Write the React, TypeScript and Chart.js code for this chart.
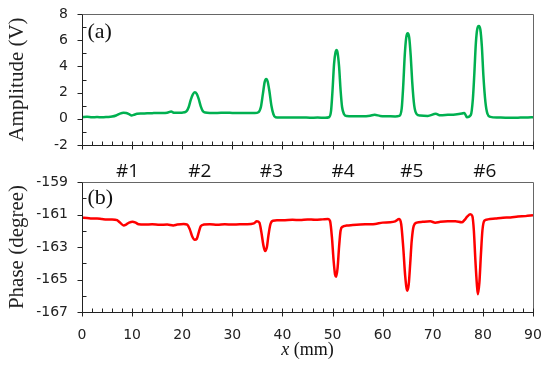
import { useEffect, useRef } from 'react';
import { Chart, registerables } from 'chart.js';

Chart.register(...registerables);

// ---- Data ----
const ampX = [0, 1, 2, 3, 4, 5, 6, 6.8, 7.5, 8.3, 8.8, 9.4, 9.9, 10.3, 11, 12, 13, 14, 15, 16, 17, 17.8, 18.3, 19, 20, 20.8, 21.3, 21.7, 22.1, 22.5, 22.9, 23.3, 23.7, 24.1, 24.6, 25.5, 27, 28.5, 30, 31.5, 33, 34.5, 35.2, 35.7, 36.1, 36.45, 36.75, 37.05, 37.4, 37.8, 38.2, 38.6, 39.5, 41, 42.5, 44, 45.5, 47, 48.5, 49.3, 49.7, 50.0, 50.3, 50.6, 50.8, 51.0, 51.3, 51.6, 51.9, 52.3, 52.8, 54, 56, 57.5, 58.4, 59.5, 61, 62.5, 63.3, 63.8, 64.1, 64.4, 64.7, 65.0, 65.3, 65.6, 65.9, 66.3, 66.8, 67.5, 69, 70.6, 71.5, 73, 74.5, 75.8, 76.3, 76.8, 77.6, 78.0, 78.3, 78.6, 78.9, 79.2, 79.5, 79.8, 80.1, 80.5, 80.9, 81.5, 83, 84.5, 86, 87.5, 89, 90];
const ampY = [0.12, 0.15, 0.12, 0.13, 0.12, 0.14, 0.17, 0.25, 0.38, 0.46, 0.44, 0.35, 0.26, 0.3, 0.38, 0.4, 0.42, 0.43, 0.44, 0.44, 0.46, 0.55, 0.47, 0.46, 0.47, 0.55, 0.9, 1.45, 1.85, 2.02, 1.9, 1.5, 0.95, 0.6, 0.48, 0.45, 0.45, 0.46, 0.45, 0.44, 0.45, 0.44, 0.5, 0.9, 1.9, 2.8, 3.04, 2.85, 2.1, 1.0, 0.35, 0.12, 0.1, 0.09, 0.1, 0.1, 0.08, 0.09, 0.08, 0.12, 0.6, 2.2, 4.2, 5.1, 5.25, 5.05, 4.0, 2.2, 0.9, 0.35, 0.22, 0.2, 0.2, 0.24, 0.3, 0.22, 0.2, 0.18, 0.22, 0.8, 2.5, 4.8, 6.2, 6.53, 6.2, 4.8, 2.8, 1.0, 0.35, 0.25, 0.22, 0.38, 0.27, 0.3, 0.33, 0.4, 0.45, 0.12, 0.3, 1.5, 3.5, 5.8, 6.9, 7.08, 6.8, 5.5, 3.3, 1.3, 0.4, 0.15, 0.1, 0.08, 0.08, 0.09, 0.1, 0.12];

const phaseX = [0, 1, 2, 3, 4, 5, 6, 7, 7.6, 8.3, 8.8, 9.4, 10.1, 10.7, 11.3, 12.5, 14, 15.5, 17, 18.2, 19, 20.3, 21.0, 21.5, 22.0, 22.5, 22.9, 23.3, 23.7, 24.3, 25.5, 27, 28.5, 30, 31.5, 33, 34.3, 34.9, 35.4, 35.8, 36.2, 36.55, 36.9, 37.2, 37.6, 38.1, 39, 40.5, 42, 43.5, 45, 46.5, 48, 49.1, 49.5, 49.9, 50.2, 50.5, 50.7, 51.0, 51.3, 51.6, 52.0, 52.8, 54, 55.5, 57, 58.5, 60, 61.5, 62.5, 63.3, 63.7, 64.1, 64.5, 64.9, 65.2, 65.5, 65.8, 66.2, 66.8, 68, 69.5, 70.5, 71.5, 73, 74.5, 75.8, 76.3, 76.9, 77.5, 77.9, 78.2, 78.5, 78.8, 79.0, 79.3, 79.6, 79.9, 80.3, 81, 82.5, 84, 85.5, 87, 88.5, 90];
const phaseY = [-161.2, -161.22, -161.25, -161.25, -161.28, -161.3, -161.3, -161.35, -161.5, -161.67, -161.62, -161.5, -161.44, -161.5, -161.6, -161.62, -161.6, -161.63, -161.62, -161.67, -161.62, -161.58, -161.62, -161.9, -162.35, -162.55, -162.5, -162.1, -161.72, -161.62, -161.6, -161.63, -161.6, -161.62, -161.6, -161.6, -161.55, -161.42, -161.5, -162.1, -162.9, -163.25, -163.0, -162.3, -161.6, -161.38, -161.36, -161.35, -161.33, -161.34, -161.3, -161.32, -161.3, -161.28, -161.4, -162.5, -163.8, -164.7, -164.83, -164.3, -163.0, -162.0, -161.75, -161.68, -161.65, -161.62, -161.6, -161.58, -161.5, -161.48, -161.42, -161.28, -161.6, -163.0, -164.8, -165.69, -165.3, -164.0, -162.6, -161.7, -161.5, -161.45, -161.42, -161.5, -161.45, -161.42, -161.42, -161.48, -161.35, -161.12, -160.99, -161.1, -162.0, -163.8, -165.3, -165.91, -165.2, -163.5, -162.0, -161.38, -161.3, -161.25, -161.2, -161.18, -161.12, -161.1, -161.05];

const ampTicks = [-2, 0, 2, 4, 6, 8];
const phaseTicks = [-167, -165, -163, -161, -159];
const xTicks = [0, 10, 20, 30, 40, 50, 60, 70, 80, 90];
const sampleLabels = ['#1', '#2', '#3', '#4', '#5', '#6'];
const sampleX = [9.1, 23.5, 37.8, 52.1, 65.8, 80.4];

const TICK_FONT = { family: 'DejaVu Sans', size: 14 };
const SERIF = 'Liberation Serif';

const framePlugin = {
  id: 'frame',
  afterDraw(chart: any, _args: any, opts: any) {
    const { ctx, chartArea } = chart;
    const xs = chart.scales.x;
    const ys = chart.scales.y;
    const L = Math.round(chartArea.left) + 0.5;
    const R = Math.round(chartArea.right) + 0.5;
    const T = Math.round(chartArea.top) + 0.5;
    const B = Math.round(chartArea.bottom) + 0.5;
    ctx.save();
    ctx.lineWidth = 1;
    ctx.strokeStyle = '#666';
    ctx.beginPath();
    ctx.moveTo(L, T);
    ctx.lineTo(R, T);
    ctx.lineTo(R, B);
    ctx.stroke();
    ctx.strokeStyle = '#222';
    ctx.beginPath();
    ctx.moveTo(L, T);
    ctx.lineTo(L, B);
    ctx.lineTo(R, B);
    const yMin = ys.min;
    const yMax = ys.max;
    for (let v = yMin; v <= yMax + 1e-9; v += 1) {
      const py = Math.round(ys.getPixelForValue(v)) + 0.5;
      const major = Math.round(v - yMin) % 2 === 0;
      ctx.moveTo(major ? L - 5 : L, py);
      ctx.lineTo(major ? L : L + 4, py);
    }
    for (let v = 0; v <= 90; v += 2) {
      const px = Math.round(xs.getPixelForValue(v)) + 0.5;
      const major = v % 10 === 0;
      ctx.moveTo(px, B - 4);
      ctx.lineTo(px, major ? B + 4 : B);
    }
    ctx.stroke();

    ctx.fillStyle = '#111';
    ctx.textBaseline = 'middle';
    ctx.textAlign = 'left';
    ctx.font = `22px "${SERIF}"`;
    ctx.fillText(opts.panel, L + 5, T + opts.panelDy);

    if (opts.samples) {
      ctx.font = '19px "Open Sans"';
      ctx.textAlign = 'center';
      sampleLabels.forEach((s, i) => {
        ctx.fillText(s, xs.getPixelForValue(sampleX[i]), T - 11);
      });
    }
    if (opts.xTitle) {
      ctx.textAlign = 'left';
      ctx.font = `italic 18px "${SERIF}"`;
      const w1 = ctx.measureText('x').width;
      ctx.font = `18px "${SERIF}"`;
      const w2 = ctx.measureText(' (mm)').width;
      const cx = (chartArea.left + chartArea.right) / 2;
      const y = B + 38;
      const x0 = cx - (w1 + w2) / 2;
      ctx.font = `italic 18px "${SERIF}"`;
      ctx.fillText('x', x0, y);
      ctx.font = `18px "${SERIF}"`;
      ctx.fillText(' (mm)', x0 + w1, y);
    }
    ctx.restore();
  },
};

function makeY(min: number, max: number, ticks: number[], title: string) {
  return {
    type: 'linear',
    min,
    max,
    afterFit: (s: any) => { s.width = 82; },
    afterBuildTicks: (s: any) => { s.ticks = ticks.map((v) => ({ value: v })); },
    grid: { display: false, drawTicks: true, tickLength: 14 },
    border: { display: false },
    ticks: { font: TICK_FONT, color: '#222', padding: 0 },
    title: {
      display: true,
      text: title,
      color: '#222',
      font: { family: SERIF, size: 21 },
      padding: { top: 5, bottom: 0 },
    },
  };
}

export default function App() {
  const topRef = useRef<HTMLCanvasElement | null>(null);
  const botRef = useRef<HTMLCanvasElement | null>(null);

  useEffect(() => {
    const top = new Chart(topRef.current as HTMLCanvasElement, {
      type: 'line',
      data: {
        datasets: [{
          data: ampX.map((x, i) => ({ x, y: ampY[i] })),
          borderColor: '#00B050',
          borderWidth: 2.5,
          pointRadius: 0,
          cubicInterpolationMode: 'monotone',
        }],
      },
      options: {
        responsive: false,
        animation: false,
        devicePixelRatio: 1,
        layout: { padding: { top: 14, right: 17, bottom: 15, left: 0 } },
        plugins: {
          legend: { display: false },
          tooltip: { enabled: false },
          frame: { panel: '(a)', panelDy: 18 },
        } as any,
        scales: {
          x: { type: 'linear', min: 0, max: 90, display: false },
          y: makeY(-2, 8, ampTicks, 'Amplitude (V)') as any,
        },
      },
      plugins: [framePlugin],
    });

    const bot = new Chart(botRef.current as HTMLCanvasElement, {
      type: 'line',
      data: {
        datasets: [{
          data: phaseX.map((x, i) => ({ x, y: phaseY[i] })),
          borderColor: '#FF0000',
          borderWidth: 2.5,
          pointRadius: 0,
          cubicInterpolationMode: 'monotone',
        }],
      },
      options: {
        responsive: false,
        animation: false,
        devicePixelRatio: 1,
        layout: { padding: { top: 22, right: 17, bottom: 0, left: 0 } },
        plugins: {
          legend: { display: false },
          tooltip: { enabled: false },
          frame: { panel: '(b)', panelDy: 16, samples: true, xTitle: true },
        } as any,
        scales: {
          x: {
            type: 'linear',
            min: 0,
            max: 90,
            afterFit: (s: any) => { s.height = 65; },
            afterBuildTicks: (s: any) => { s.ticks = xTicks.map((v) => ({ value: v })); },
            grid: { display: false, drawTicks: true, tickLength: 15 },
            border: { display: false },
            ticks: { font: TICK_FONT, color: '#222', padding: 0, maxRotation: 0 },
          } as any,
          y: makeY(-167, -159, phaseTicks, 'Phase (degree)') as any,
        },
      },
      plugins: [framePlugin],
    });

    return () => {
      top.destroy();
      bot.destroy();
    };
  }, []);

  return (
    <div style={{ position: 'fixed', left: 0, top: 0, width: 550, height: 377, background: '#fff' }}>
      <canvas ref={topRef} width={550} height={160} style={{ position: 'absolute', left: 0, top: 0, display: 'block' }} />
      <canvas ref={botRef} width={550} height={217} style={{ position: 'absolute', left: 0, top: 160, display: 'block' }} />
    </div>
  );
}
